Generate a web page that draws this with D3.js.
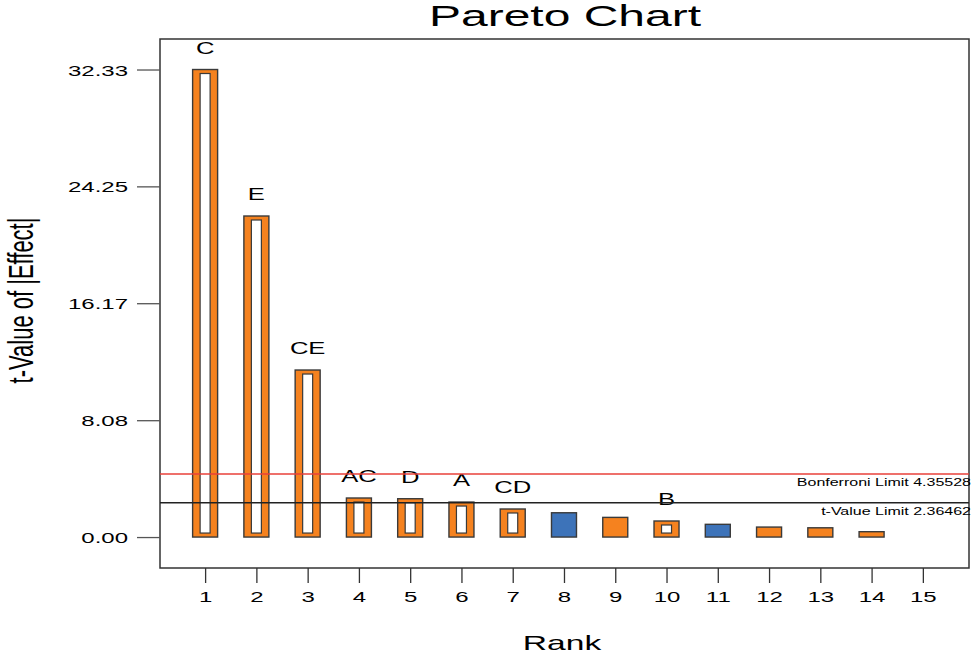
<!DOCTYPE html>
<html>
<head>
<meta charset="utf-8">
<script src="https://cdn.jsdelivr.net/npm/d3@7"></script>
<style>
  html, body { margin: 0; padding: 0; background: #fff; }
  svg { display: block; }
  text { font-family: "Liberation Sans", Arial, sans-serif; fill: #000; }
</style>
</head>
<body>
<svg id="chart" width="975" height="656"></svg>
<script>
// Ranked effects: |t| value, term label, sign of effect, whether the term is in the model
const ranks      = [1, 2, 3, 4, 5, 6, 7, 8, 9, 10, 11, 12, 13, 14];
const tValues    = [32.33, 22.2, 11.55, 2.70, 2.65, 2.42, 1.94, 1.68, 1.36, 1.11, 0.88, 0.69, 0.64, 0.37];
const terms      = ["C", "E", "CE", "AC", "D", "A", "CD", "", "", "B", "", "", "", ""];
const signs      = ["+", "+", "+", "+", "+", "+", "+", "-", "+", "+", "-", "+", "+", "+"];
const inModel    = [true, true, true, true, true, true, true, false, false, true, false, false, false, false];
const rankTicks  = [1, 2, 3, 4, 5, 6, 7, 8, 9, 10, 11, 12, 13, 14, 15];
const yTicks     = [0.00, 8.08, 16.17, 24.25, 32.33];
const bonferroni = 4.35528;
const tLimit     = 2.36462;

const svg = d3.select("#chart");
const plotL = 160, plotR = 969, plotT = 39, plotB = 568;
const stretch = 1.6;   // text is drawn horizontally widened

const x = d3.scaleLinear().domain([0.12, 15.9]).range([plotL, plotR]);
const y = d3.scaleLinear().domain([-2.14, 34.44]).range([plotB, plotT]);

const colPos = "#F5821F", colNeg = "#3D73B9", edge = "#3a3a3a";

// widened text helper
function wideText(g, tx, ty, str, size, anchor) {
  return g.append("text")
    .attr("transform", `translate(${tx},${ty}) scale(${stretch},1)`)
    .attr("text-anchor", anchor)
    .attr("font-size", size)
    .text(str);
}

// title
wideText(svg, 565, 26, "Pareto Chart", 30, "middle");

// frame
svg.append("rect")
  .attr("x", plotL).attr("y", plotT)
  .attr("width", plotR - plotL).attr("height", plotB - plotT)
  .attr("fill", "none").attr("stroke", "#333").attr("stroke-width", 1.5);

// y axis
const yAxis = svg.append("g")
  .attr("transform", `translate(${plotL},0)`)
  .call(d3.axisLeft(y).tickValues(yTicks).tickSize(23).tickFormat(d3.format(".2f")));
yAxis.select(".domain").remove();
yAxis.selectAll(".tick line").attr("stroke", "#555").attr("stroke-width", 1.3);
yAxis.selectAll(".tick text")
  .attr("x", null).attr("dy", null)
  .attr("transform", "translate(-32,5.5) scale(1.6,1)")
  .attr("text-anchor", "end")
  .attr("font-size", 15)
  .attr("font-family", "Liberation Sans, Arial, sans-serif")
  .attr("fill", "#000");

// x axis
const xAxis = svg.append("g")
  .attr("transform", `translate(0,${plotB})`)
  .call(d3.axisBottom(x).tickValues(rankTicks).tickSize(15).tickFormat(d3.format("d")));
xAxis.select(".domain").remove();
xAxis.selectAll(".tick line").attr("stroke", "#333").attr("stroke-width", 1.3);
xAxis.selectAll(".tick text")
  .attr("y", null).attr("dy", null)
  .attr("transform", "translate(0,34) scale(1.6,1)")
  .attr("text-anchor", "middle")
  .attr("font-size", 15)
  .attr("font-family", "Liberation Sans, Arial, sans-serif")
  .attr("fill", "#000");

// axis titles
wideText(svg, 562, 650, "Rank", 21, "middle");
svg.append("text")
  .attr("transform", `translate(33,300.5) scale(${stretch},1) rotate(-90)`)
  .attr("text-anchor", "middle")
  .attr("font-size", 22)
  .text("t-Value of |Effect|");

// bars
const data = ranks.map((r, i) => ({
  rank: r, t: tValues[i], term: terms[i], sign: signs[i], model: inModel[i]
}));
const barW = 25, innerW = 10, innerInset = 4;

const bars = svg.append("g");
bars.selectAll("rect.outer")
  .data(data).join("rect")
  .attr("class", "outer")
  .attr("x", d => x(d.rank) - barW / 2)
  .attr("y", d => y(d.t))
  .attr("width", barW)
  .attr("height", d => y(0) - y(d.t))
  .attr("fill", d => d.sign === "+" ? colPos : colNeg)
  .attr("stroke", edge).attr("stroke-width", 1.4);

bars.selectAll("rect.inner")
  .data(data.filter(d => d.model)).join("rect")
  .attr("class", "inner")
  .attr("x", d => x(d.rank) - innerW / 2)
  .attr("y", d => y(d.t) + innerInset)
  .attr("width", innerW)
  .attr("height", d => Math.max(0, y(0) - y(d.t) - 2 * innerInset))
  .attr("fill", "#fff")
  .attr("stroke", edge).attr("stroke-width", 1.2);

// term labels
data.filter(d => d.term).forEach(d => {
  wideText(bars, x(d.rank), y(d.t) - 16, d.term, 16, "middle");
});

// limit lines
svg.append("line")
  .attr("x1", plotL).attr("x2", plotR)
  .attr("y1", y(bonferroni)).attr("y2", y(bonferroni))
  .attr("stroke", "#E8403A").attr("stroke-width", 1.5);
svg.append("line")
  .attr("x1", plotL).attr("x2", plotR)
  .attr("y1", y(tLimit)).attr("y2", y(tLimit))
  .attr("stroke", "#222").attr("stroke-width", 1.5);

wideText(svg, 971, y(bonferroni) + 12, "Bonferroni Limit " + bonferroni.toFixed(5), 10, "end");
wideText(svg, 971, y(tLimit) + 12, "t-Value Limit " + tLimit.toFixed(5), 10, "end");
</script>
</body>
</html>
